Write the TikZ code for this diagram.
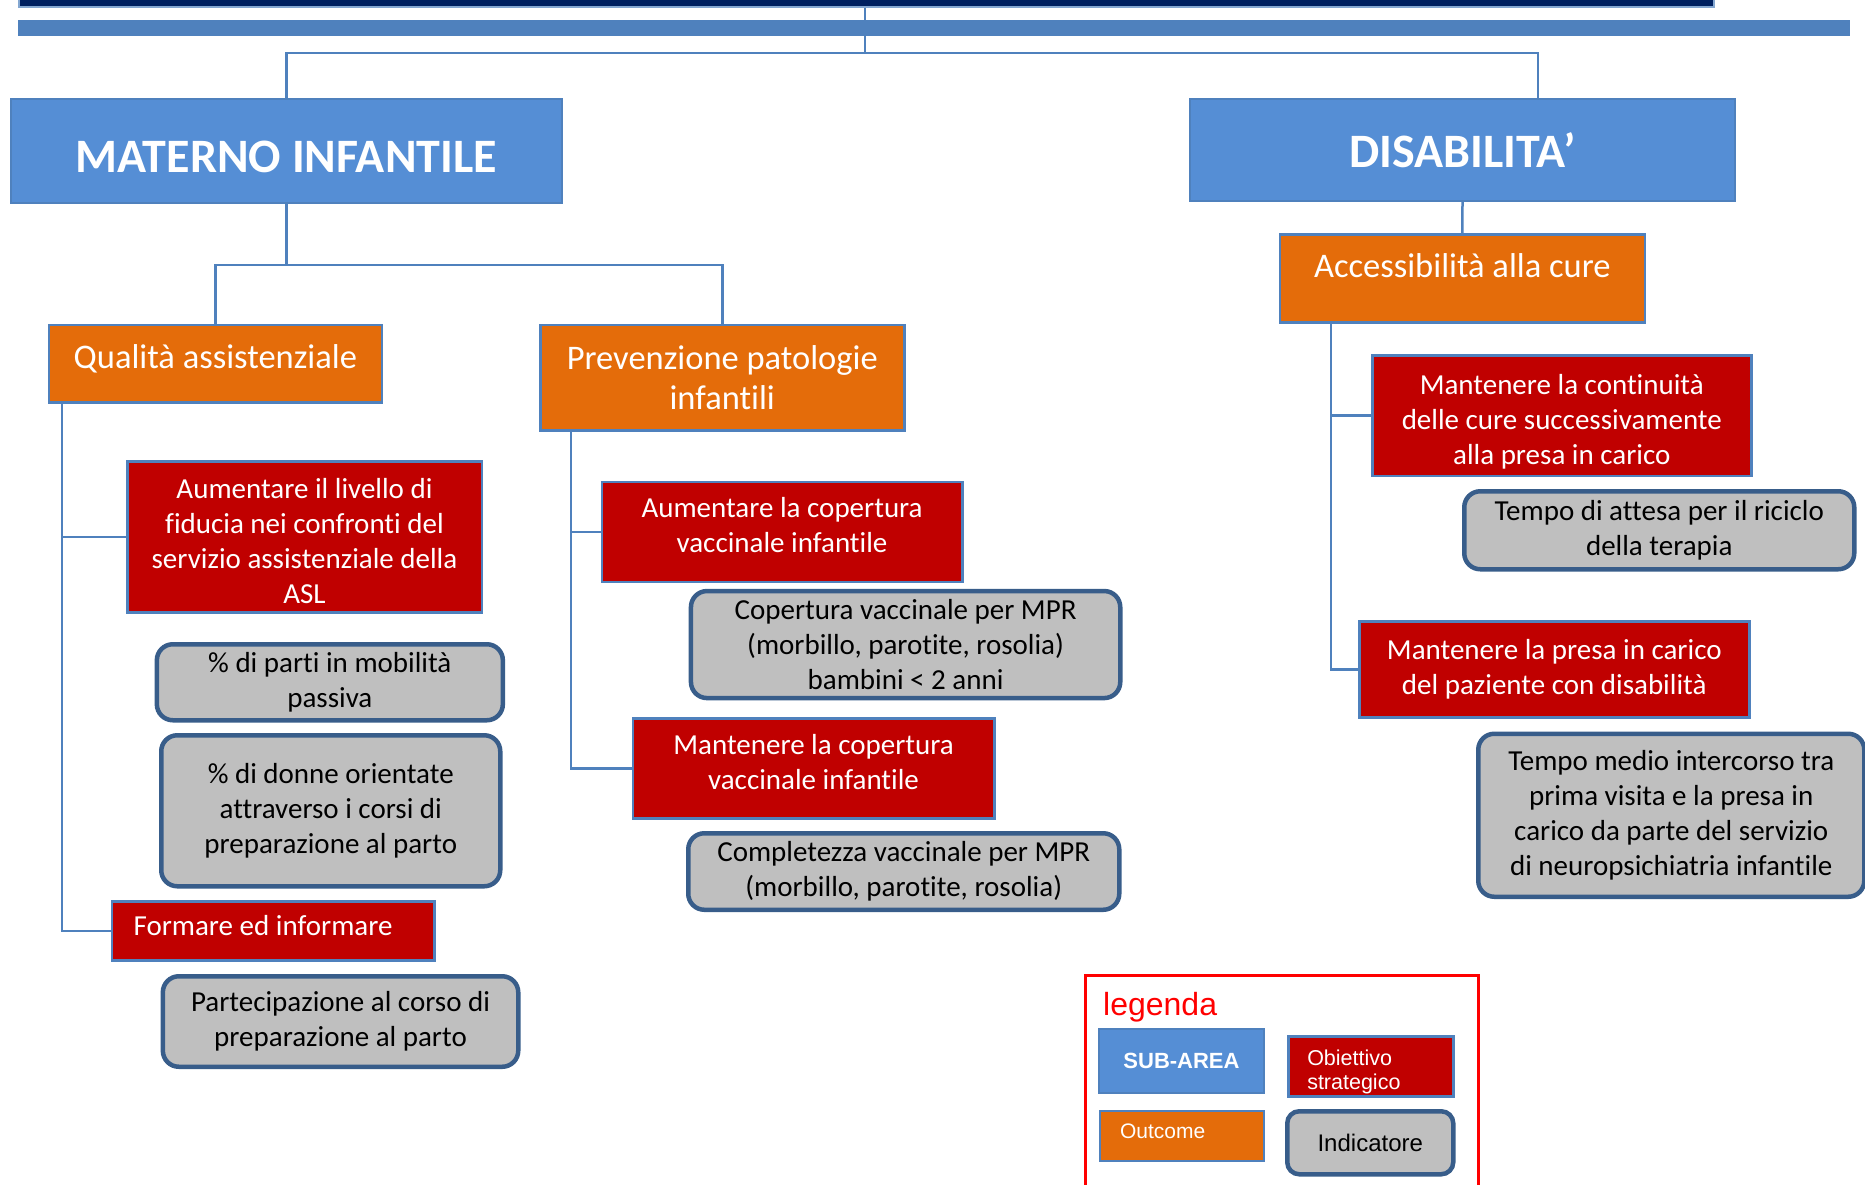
\documentclass[tikz,border=0pt]{standalone}
\usepackage{fontspec}
\setmainfont{Carlito}[Ligatures=NoCommon]
\newfontfamily\legendfont{Liberation Sans}
\usetikzlibrary{calc}

\definecolor{subarea}{HTML}{558ED5}
\definecolor{frameblue}{HTML}{4F81BD}
\definecolor{outcome}{HTML}{E46C0A}
\definecolor{objred}{HTML}{C00000}
\definecolor{indgray}{HTML}{BFBFBF}
\definecolor{indborder}{HTML}{385D8A}
\definecolor{navy}{HTML}{002060}

% struts that nudge a node's text down (\lowertext) or up (\lifttext)
\newcommand\lowertext[1]{\rule{0pt}{#1}}
\newcommand\lifttext[1]{\rule[-#1]{0pt}{#1}}

\tikzset{
  base/.style={anchor=north west, inner sep=0pt, align=center},
  subareabox/.style={base, fill=subarea, draw=frameblue, line width=2pt, text=white,
    font=\fontsize{48}{54}\selectfont\bfseries},
  outcomebox/.style={base, fill=outcome, draw=frameblue, line width=2.5pt, text=white,
    font=\fontsize{34.5}{39.5}\selectfont},
  objbox/.style={base, fill=objred, draw=frameblue, line width=2.5pt, text=white,
    font=\fontsize{29}{35}\selectfont},
  indbox/.style={base, fill=indgray, draw=indborder, line width=4.5pt, rounded corners=16pt,
    text=black, font=\fontsize{29}{35}\selectfont},
  link/.style={draw=frameblue, line width=2.5pt},
}

\begin{document}
\begin{tikzpicture}[x=1pt, y=-1pt]
\useasboundingbox (0,0) rectangle (1865,1184);

% header bars
\node[anchor=north west, inner sep=0pt, fill=navy, draw=frameblue!70, line width=1.5pt,
      minimum width=1695pt, minimum height=18pt] (navybar) at (18,-12) {};
\node[anchor=north west, inner sep=0pt, fill=frameblue,
      minimum width=1832pt, minimum height=16pt] (bluebar) at (18,20) {};

% sub-areas
\node[subareabox, minimum width=551.5pt, minimum height=104.5pt] (mat) at (9.5,97.5)
  {\lowertext{43pt}MATERNO INFANTILE};
\node[subareabox, minimum width=545pt, minimum height=102.5pt] (dis) at (1189,97.5) {DISABILITA’};

% outcomes
\node[outcomebox, minimum width=333pt, minimum height=77.5pt, text depth=13pt] (qual) at (47.6,323.5) {Qualità assistenziale};
\node[outcomebox, minimum width=364pt, minimum height=105.5pt] (prev) at (539,323.5) {Prevenzione patologie\\infantili};
\node[outcomebox, minimum width=365pt, minimum height=88pt, text depth=26pt] (acc) at (1278.6,233) {Accessibilità alla cure};

% strategic objectives
\node[objbox, minimum width=354.5pt, minimum height=151pt] (aum1) at (126,460)
  {\lowertext{29pt}Aumentare il livello di\\fiducia nei confronti del\\servizio assistenziale della\\ASL};
\node[objbox, minimum width=322.4pt, minimum height=59pt] (form) at (110.6,900)
  {Formare ed informare\rule{20pt}{0pt}\lifttext{10pt}};
\node[objbox, minimum width=360.4pt, minimum height=100pt] (aumc) at (600.6,480.5)
  {Aumentare la copertura\\vaccinale infantile\lifttext{13pt}};
\node[objbox, minimum width=361.4pt, minimum height=100pt] (manc) at (631.6,717)
  {Mantenere la copertura\\vaccinale infantile\lifttext{13pt}};
\node[objbox, minimum width=379pt, minimum height=120.6pt] (mcont) at (1371,354)
  {\lowertext{32pt}Mantenere la continuità\\delle cure successivamente\\alla presa in carico};
\node[objbox, minimum width=390pt, minimum height=96pt] (mpresa) at (1358,620)
  {Mantenere la presa in carico\\del paziente con disabilità};

% indicators
\node[indbox, minimum width=346pt, minimum height=76pt] (ipart) at (154.6,642)
  {\% di parti in mobilità\\passiva};
\node[indbox, minimum width=339pt, minimum height=151pt] (idonne) at (159,733)
  {\% di donne orientate\\attraverso i corsi di\\preparazione al parto};
\node[indbox, minimum width=355.4pt, minimum height=90.5pt] (icorso) at (160.6,974)
  {Partecipazione al corso di\\preparazione al parto};
\node[indbox, minimum width=429.3pt, minimum height=107pt] (icop) at (688.7,588.8)
  {Copertura vaccinale per MPR\\(morbillo, parotite, rosolia)\\bambini < 2 anni};
\node[indbox, minimum width=431pt, minimum height=76.5pt] (icompl) at (686,831)
  {Completezza vaccinale per MPR\\(morbillo, parotite, rosolia)};
\node[indbox, minimum width=390pt, minimum height=78pt] (iattesa) at (1462,489)
  {Tempo di attesa per il riciclo\\della terapia};
\node[indbox, minimum width=386pt, minimum height=163pt] (itempo) at (1476,731.5)
  {Tempo medio intercorso tra\\prima visita e la presa in\\carico da parte del servizio\\di neuropsichiatria infantile};

% connectors
\coordinate (hub) at (865,53);
\coordinate (disin) at (1538,97.5);
\draw[link] (navybar.south -| hub) -- (hub);
\draw[link] (mat.north) |- (hub) -| (disin);

\coordinate (mj) at ($(mat.south)+(0,61)$);
\draw[link] (mat.south) -- (mj);
\draw[link] (qual.north) |- (mj) -| (prev.north);
\draw[link] (dis.south) -- (acc.north);

\coordinate (lq) at ($(qual.south west)+(14.4,0)$);
\draw[link] (lq) |- (aum1.west);
\draw[link] (lq) |- (form.west);

\coordinate (lp) at ($(prev.south west)+(32,0)$);
\draw[link] (lp) |- (aumc.west);
\draw[link] (lp) |- (manc.west);

\coordinate (la) at ($(acc.south west)+(52.4,0)$);
\draw[link] (la) |- (mcont.west);
\draw[link] (la) |- (mpresa.west);

% legend
\node[anchor=north west, inner sep=0pt, draw=red, line width=3pt,
      minimum width=393.5pt, minimum height=240pt] (legframe) at (1083.5,974) {};
\node[anchor=base west, inner sep=0pt, text=red, font=\legendfont\fontsize{32}{38}\selectfont]
  (legtitle) at (1103,1015) {legenda};
\node[base, fill=subarea, draw=frameblue, line width=2pt, minimum width=165pt, minimum height=64pt,
      text=white, font=\legendfont\fontsize{22}{26}\selectfont\bfseries] (legsub) at (1098,1028) {SUB-AREA};
\node[base, fill=objred, draw=frameblue, line width=2.5pt, minimum width=165pt, minimum height=60pt,
      text=white, align=left, text width=127pt, font=\legendfont\fontsize{21.5}{24}\selectfont]
  (legobj) at (1287,1035) {\lowertext{26pt}Obiettivo\\strategico};
\node[base, fill=outcome, draw=frameblue, line width=2pt, minimum width=164pt, minimum height=50pt,
      text=white, align=left, text width=124pt, font=\legendfont\fontsize{21}{24}\selectfont]
  (legout) at (1099,1110) {Outcome\lifttext{10pt}};
\node[base, fill=indgray, draw=indborder, line width=4.5pt, rounded corners=12pt,
      minimum width=166pt, minimum height=63pt, text=black,
      font=\legendfont\fontsize{24}{28}\selectfont] (legind) at (1285,1109) {Indicatore};
\end{tikzpicture}
\end{document}
